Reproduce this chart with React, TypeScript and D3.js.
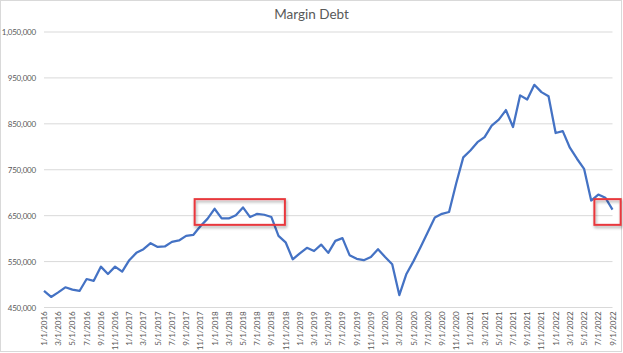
import React, { useRef, useEffect } from 'react';
import * as d3 from 'd3';

// monthly margin debt, 1/1/2016 .. 9/1/2022
const months: Date[] = d3.timeMonth.range(new Date(2016, 0, 1), new Date(2022, 9, 1));

const marginDebt: number[] = [
  486000, 473000, 483000, 494000, 489000, 486000, 512000, 508000, 539000, 523000,
  539000, 528000, 553000, 569000, 577000, 590000, 582000, 583000, 593000, 596000,
  606000, 608000, 627000, 643000, 665000, 644000, 644000, 651000, 668000, 647000,
  654000, 652000, 647000, 606000, 592000, 555000, 568000, 580000, 573000, 587000,
  569000, 595000, 601000, 564000, 556000, 553000, 560000, 577000, 560000, 544000,
  477000, 523000, 551000, 582000, 614000, 646000, 654000, 658000, 720000, 777000,
  792000, 810000, 821000, 846000, 859000, 880000, 843000, 912000, 903000, 935000,
  919000, 910000, 830000, 834000, 798000, 774000, 752000, 683000, 696000, 689000,
  663000,
];

const yTicks: number[] = [450000, 550000, 650000, 750000, 850000, 950000, 1050000];

// highlight boxes: month index span and value span
const highlights = [
  { i0: 21.2, i1: 33.9, v0: 686000, v1: 630000 },
  { i0: 77.45, i1: 81.15, v0: 686000, v1: 630000 },
];

const W = 623;
const H = 353;
const FONT = 'Lato, "Open Sans", sans-serif';

export default function App() {
  const svgRef = useRef<SVGSVGElement>(null);

  useEffect(() => {
    if (!svgRef.current) return;
    const svg = d3.select(svgRef.current);
    svg.selectAll('*').remove();

    const left = 44, right = 612.5, top = 32, bottom = 307.5;

    const x = d3.scaleLinear().domain([0, months.length - 1]).range([left, right]);
    const y = d3.scaleLinear().domain([450000, 1050000]).range([bottom, top]);
    const fmtDate = d3.timeFormat('%-m/%-d/%Y');

    const defs = svg.append('defs');
    const f = defs.append('filter').attr('id', 'shadow')
      .attr('x', '-20%').attr('y', '-40%').attr('width', '140%').attr('height', '180%');
    f.append('feDropShadow').attr('dx', 1).attr('dy', 2).attr('stdDeviation', 1.5)
      .attr('flood-color', '#000').attr('flood-opacity', 0.35);

    svg.append('rect')
      .attr('x', 0.5).attr('y', 0.5).attr('width', W - 2).attr('height', H - 2)
      .attr('fill', '#fff').attr('stroke', '#d9d9d9');

    svg.append('text')
      .attr('x', W / 2).attr('y', 19)
      .attr('text-anchor', 'middle')
      .attr('font-family', FONT).attr('font-size', 13.5)
      .attr('fill', '#595959')
      .text('Margin Debt');

    // gridlines + y labels
    const grid = svg.append('g');
    grid.selectAll('line').data(yTicks).enter().append('line')
      .attr('x1', left).attr('x2', right)
      .attr('y1', d => y(d)).attr('y2', d => y(d))
      .attr('stroke', '#d9d9d9').attr('stroke-width', 1);
    grid.selectAll('text').data(yTicks).enter().append('text')
      .attr('x', 36).attr('y', d => y(d) + 3)
      .attr('text-anchor', 'end')
      .attr('font-family', FONT).attr('font-size', 8)
      .attr('letter-spacing', -0.2)
      .attr('fill', '#595959')
      .text(d => d3.format(',')(d));

    // x labels every 2 months
    const xLab = svg.append('g');
    xLab.selectAll('text')
      .data(months.map((m, i) => ({ m, i })).filter(d => d.i % 2 === 0))
      .enter().append('text')
      .attr('transform', d => `translate(${x(d.i) + 3},${bottom + 4}) rotate(-90)`)
      .attr('text-anchor', 'end')
      .attr('font-family', FONT).attr('font-size', 8)
      .attr('letter-spacing', -0.1)
      .attr('fill', '#595959')
      .text(d => fmtDate(d.m));

    const line = d3.line<number>()
      .x((_, i) => x(i))
      .y(d => y(d));

    svg.append('path')
      .datum(marginDebt)
      .attr('d', line)
      .attr('fill', 'none')
      .attr('stroke', '#4472c4')
      .attr('stroke-width', 2.25)
      .attr('stroke-linejoin', 'round');

    svg.append('g').selectAll('rect').data(highlights).enter().append('rect')
      .attr('x', d => x(d.i0))
      .attr('y', d => y(d.v0))
      .attr('width', d => x(d.i1) - x(d.i0))
      .attr('height', d => y(d.v1) - y(d.v0))
      .attr('fill', 'none')
      .attr('stroke', '#e8383d')
      .attr('stroke-width', 2)
      .attr('filter', 'url(#shadow)');
  }, []);

  return (
    <svg
      ref={svgRef}
      width={W}
      height={H}
      style={{ position: 'absolute', left: 0, top: 0, background: '#fff' }}
    />
  );
}
